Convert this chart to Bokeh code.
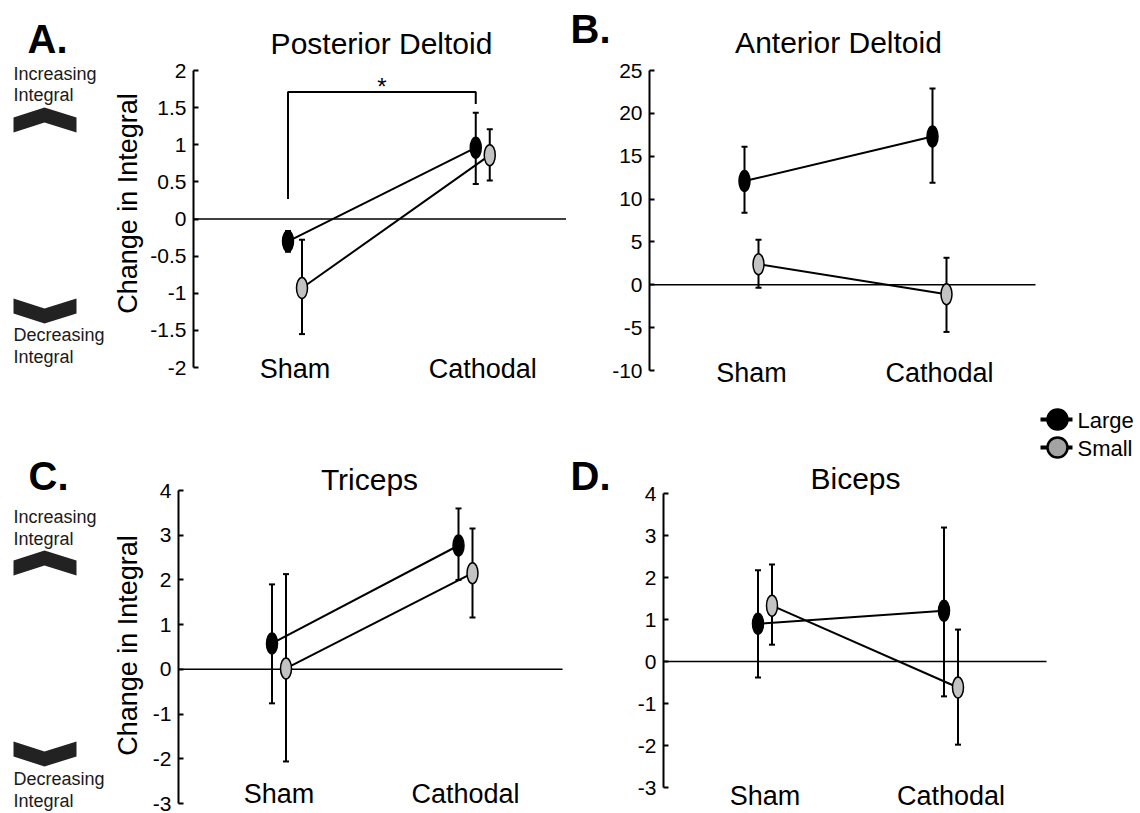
import math
from bokeh.plotting import figure
from bokeh.models import (Range1d, LinearAxis, FixedTicker, CustomJSTickFormatter,
                          Label, ColumnDataSource)
from bokeh.layouts import row, column
from bokeh.embed import file_html
from bokeh.resources import INLINE
from bokeh.core.properties import value

FONT = "Liberation Sans"

# ---------------- data ----------------
categories = ["Sham", "Cathodal"]
series = ["Large", "Small"]

# A. Posterior Deltoid
a_ticks = [-2, -1.5, -1, -0.5, 0, 0.5, 1, 1.5, 2]
a_large = [-0.30, 0.96]
a_large_lo = [-0.44, 0.47]
a_large_hi = [-0.16, 1.43]
a_small = [-0.93, 0.86]
a_small_lo = [-1.55, 0.52]
a_small_hi = [-0.28, 1.21]
a_sig_bracket = [0.27, 1.71, 1.55]   # left foot, top, right foot
a_sig_mark = "*"

# B. Anterior Deltoid
b_ticks = [-10, -5, 0, 5, 10, 15, 20, 25]
b_large = [12.1, 17.3]
b_large_lo = [8.4, 11.9]
b_large_hi = [16.1, 22.9]
b_small = [2.4, -1.1]
b_small_lo = [-0.35, -5.5]
b_small_hi = [5.25, 3.15]

# C. Triceps
c_ticks = [-3, -2, -1, 0, 1, 2, 3, 4]
c_large = [0.58, 2.77]
c_large_lo = [-0.76, 2.0]
c_large_hi = [1.9, 3.6]
c_small = [0.02, 2.15]
c_small_lo = [-2.06, 1.16]
c_small_hi = [2.13, 3.15]

# D. Biceps
d_ticks = [-3, -2, -1, 0, 1, 2, 3, 4]
d_large = [0.90, 1.21]
d_large_lo = [-0.38, -0.83]
d_large_hi = [2.17, 3.19]
d_small = [1.33, -0.62]
d_small_lo = [0.40, -1.98]
d_small_hi = [2.31, 0.76]

titles = ["Posterior Deltoid", "Anterior Deltoid", "Triceps", "Biceps"]
letters = ["A.", "B.", "C.", "D."]
y_label = "Change in Integral"
up_text = ["Increasing", "Integral"]
down_text = ["Decreasing", "Integral"]

# ---------------- styles ----------------
FILL = {"Large": "black", "Small": "#c3c3c3"}
LEGEND_FILL = {"Large": "black", "Small": "#a3a3a3"}
OFFSET_PX = {"Large": -7, "Small": 7}
BASE = 0.37   # anchor correction (fraction of font size) to hit the baseline


def bl(y, fs):
    return y - BASE * fs


def panel(geo, ticks, data, title, letter, ylabel=None, bracket=None,
          side=None, legend=None):
    X0, Y0, W, H = geo["fig"]
    (tv, tp), (bv, bp) = geo["ytop"], geo["ybot"]
    sx, cx = geo["cats"]
    ky = (bp - tp) / (tv - bv)
    kx = cx - sx
    p = figure(width=W, height=H,
               x_range=Range1d((X0 - sx) / kx, (X0 + W - sx) / kx),
               y_range=Range1d(bv - (Y0 + H - bp) / ky, tv + (tp - Y0) / ky),
               x_axis_location=None, y_axis_location=None, title=None,
               toolbar_location=None, output_backend="svg", min_border=0,
               outline_line_color=None)
    p.grid.visible = False
    # page-pixel helper ranges for decorations
    p.extra_x_ranges = {"px": Range1d(X0, X0 + W)}
    p.extra_y_ranges = {"py": Range1d(Y0 + H, Y0)}

    ax = LinearAxis(ticker=FixedTicker(ticks=ticks),
                    formatter=CustomJSTickFormatter(code="return String(tick)"),
                    bounds=(min(ticks), max(ticks)),
                    fixed_location=(geo["axis_x"] - sx) / kx,
                    axis_line_width=2, axis_line_color="black",
                    major_tick_line_width=2, major_tick_line_color="black",
                    major_tick_in=5, major_tick_out=0,
                    minor_tick_in=0, minor_tick_out=0,
                    major_label_text_font=FONT,
                    major_label_text_font_size="21px",
                    major_label_text_color="black",
                    major_label_standoff=7)
    p.add_layout(ax, "left")

    # zero reference line
    p.segment(x0=[geo["axis_x"]], x1=[geo["zero_end"]], y0=[0], y1=[0],
              x_range_name="px", line_color="black", line_width=1.5)

    srcs = {}
    for s in series:
        mean, lo, hi = data[s]
        off = OFFSET_PX[s] / kx
        srcs[s] = ColumnDataSource(dict(x=[i + off for i in range(len(categories))],
                                        m=mean, lo=lo, hi=hi))
    for s in series:
        p.line("x", "m", source=srcs[s], line_color="black", line_width=2)
    for s in series:
        src = srcs[s]
        p.segment(x0="x", y0="lo", x1="x", y1="hi", source=src,
                  line_color="black", line_width=2)
        p.scatter("x", "lo", source=src, marker="dash", size=6,
                  line_color="black", line_width=2)
        p.scatter("x", "hi", source=src, marker="dash", size=6,
                  line_color="black", line_width=2)
    for s in series:
        p.ellipse("x", "m", source=srcs[s], width=11, height=21,
                  width_units="screen", height_units="screen",
                  fill_color=FILL[s], line_color="black", line_width=1.5)

    if bracket is not None:
        off = OFFSET_PX["Large"] / kx
        xl, xr = 0 + off, 1 + off
        p.line(x=[xl, xl, xr, xr],
               y=[bracket[0], bracket[1], bracket[1], bracket[2]],
               line_color="black", line_width=2)
        p.text(x=[(xl + xr) / 2], y=[bracket[1]], text=[a_sig_mark],
               y_offset=3 - BASE * 24, text_font=value(FONT),
               text_font_size="24px", text_align="center",
               text_baseline="alphabetic", text_color="black")

    # category labels
    p.text(x=list(range(len(categories))),
           y=[bl(geo["cat_y"], 27)] * len(categories),
           y_range_name="py", text=categories, text_font=value(FONT),
           text_font_size="27px", text_align="center",
           text_baseline="alphabetic", text_color="black")

    tx, ty = geo["title"]
    p.add_layout(Label(x=tx, y=bl(ty, 30), x_range_name="px", y_range_name="py",
                       text=title, text_font=FONT, text_font_size="30px",
                       text_align="center", text_baseline="alphabetic",
                       text_color="black"))
    lx, ly = geo["letter"]
    p.add_layout(Label(x=lx, y=bl(ly, 40), x_range_name="px", y_range_name="py",
                       text=letter, text_font=FONT, text_font_size="40px",
                       text_font_style="bold", text_align="left",
                       text_baseline="alphabetic", text_color="black"))
    if ylabel is not None:
        yx, yy = geo["ylabel"]
        p.add_layout(Label(x=bl(yx, 27), y=yy, x_range_name="px",
                           y_range_name="py", text=ylabel, angle=math.pi / 2,
                           text_font=FONT, text_font_size="27px",
                           text_align="center", text_baseline="alphabetic",
                           text_color="black"))

    if side is not None:
        up_y, down_y, up_txt_y, down_txt_y = side
        xl, xm, xr, th, dp = 13, 44, 76, 15, 10
        up_xs = [xl, xm, xr, xr, xm, xl]
        up_ys = [up_y + dp, up_y, up_y + dp, up_y + dp + th, up_y + th,
                 up_y + dp + th]
        dn_ys = [down_y, down_y + dp, down_y, down_y + th, down_y + dp + th,
                 down_y + th]
        p.patches(xs=[up_xs, up_xs], ys=[up_ys, dn_ys], x_range_name="px",
                  y_range_name="py", fill_color="#222222", line_color=None)
        p.text(x=[13] * 4, y=[bl(v, 18) for v in up_txt_y + down_txt_y],
               text=up_text + down_text,
               x_range_name="px", y_range_name="py", text_font=value(FONT),
               text_font_size="18px", text_baseline="alphabetic",
               text_color="#1a1a1a")

    if legend is not None:
        lx0, lx1, cxl, ys, tx0, tys = legend
        p.segment(x0=[lx0] * 2, x1=[lx1] * 2, y0=ys, y1=ys,
                  x_range_name="px", y_range_name="py",
                  line_color="black", line_width=4)
        p.scatter(x=[cxl] * 2, y=ys, size=20, marker="circle",
                  x_range_name="px", y_range_name="py",
                  fill_color=[LEGEND_FILL[s] for s in series],
                  line_color="black", line_width=2.5)
        p.text(x=[tx0] * 2, y=[bl(v, 22) for v in tys], text=series,
               x_range_name="px", y_range_name="py", text_font=value(FONT),
               text_font_size="22px", text_baseline="alphabetic",
               text_color="black")
    return p


geoA = dict(fig=(0, 0, 566, 400), ytop=(2, 70), ybot=(-2, 367),
            cats=(294.5, 482.25), axis_x=193, zero_end=566, cat_y=378,
            title=(381, 54), ylabel=(137, 203), letter=(27, 53))
geoB = dict(fig=(566, 0, 574, 400), ytop=(25, 70), ybot=(-10, 370),
            cats=(751, 939), axis_x=649, zero_end=1035, cat_y=382,
            title=(838, 53), letter=(570, 43))
geoC = dict(fig=(0, 400, 566, 413), ytop=(4, 490), ybot=(-3, 803),
            cats=(278.5, 465), axis_x=178, zero_end=562, cat_y=803,
            title=(369, 490), ylabel=(137, 645), letter=(28, 490))
geoD = dict(fig=(566, 400, 574, 413), ytop=(4, 493), ybot=(-3, 787),
            cats=(764.5, 950.5), axis_x=663, zero_end=1046, cat_y=805,
            title=(855, 489), letter=(570, 490))

pA = panel(geoA, a_ticks, {"Large": (a_large, a_large_lo, a_large_hi),
                           "Small": (a_small, a_small_lo, a_small_hi)},
           titles[0], letters[0], ylabel=y_label, bracket=a_sig_bracket,
           side=(107, 298, [80, 101], [341, 363]))
pB = panel(geoB, b_ticks, {"Large": (b_large, b_large_lo, b_large_hi),
                           "Small": (b_small, b_small_lo, b_small_hi)},
           titles[1], letters[1])
pC = panel(geoC, c_ticks, {"Large": (c_large, c_large_lo, c_large_hi),
                           "Small": (c_small, c_small_lo, c_small_hi)},
           titles[2], letters[2], ylabel=y_label,
           side=(550, 741, [523, 545], [785, 807]))
pD = panel(geoD, d_ticks, {"Large": (d_large, d_large_lo, d_large_hi),
                           "Small": (d_small, d_small_lo, d_small_hi)},
           titles[3], letters[3],
           legend=(1040, 1072, 1057, [419, 447], 1077, [428, 456]))

layout = column(row(pA, pB), row(pC, pD))

open("out.html", "w").write(file_html(layout, INLINE))
